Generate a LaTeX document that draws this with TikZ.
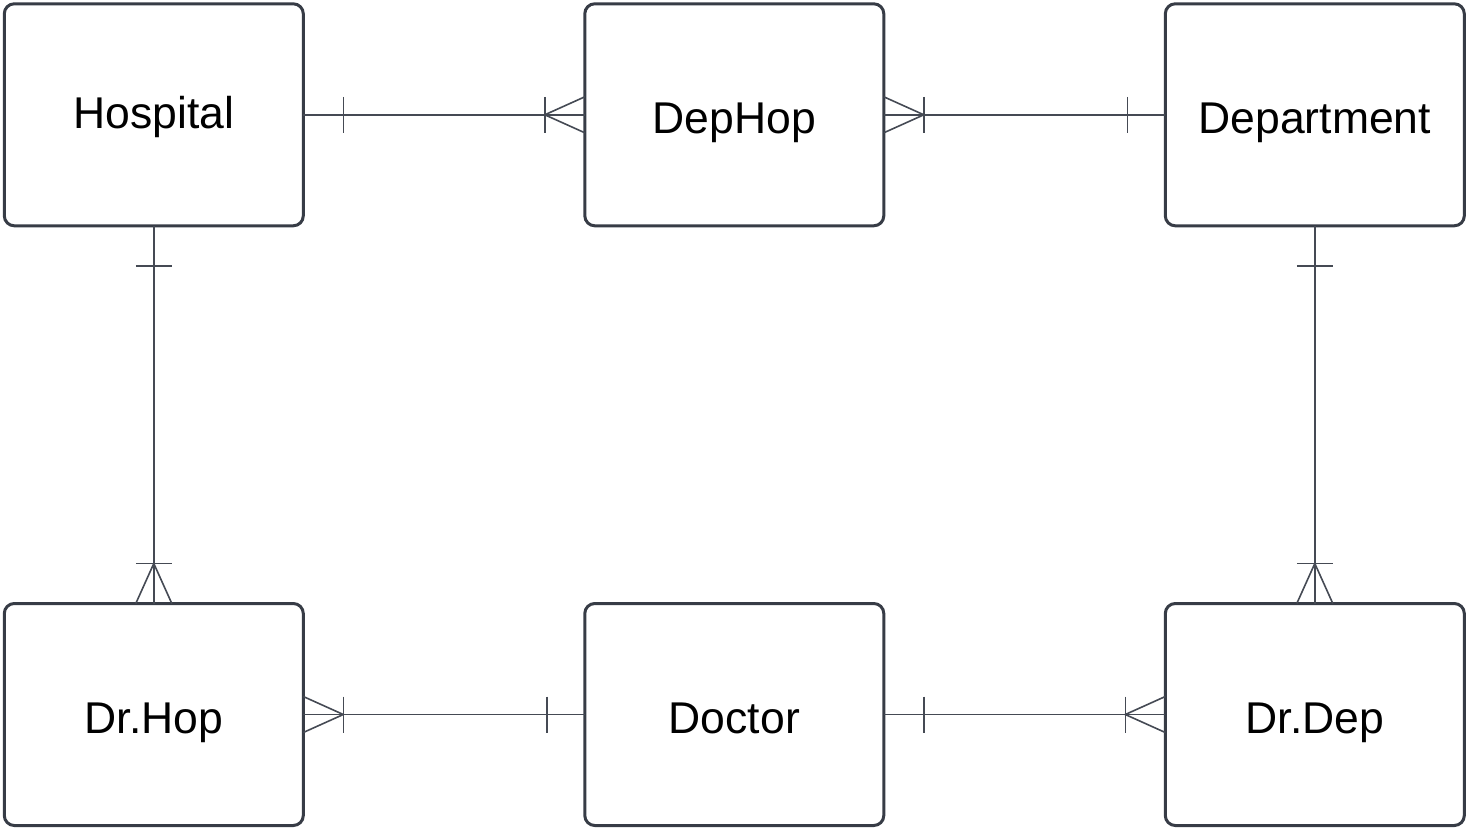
\documentclass[tikz,border=0pt]{standalone}
\usepackage{fontspec}
\setmainfont{Liberation Sans}
\usetikzlibrary{positioning,calc}
\definecolor{boxgray}{HTML}{373C46}
\definecolor{linkgray}{HTML}{454A54}
\begin{document}
\begin{tikzpicture}[x=1pt,y=-1pt,
  entity/.style={draw=boxgray,line width=3pt,rounded corners=10pt,outer sep=0pt,inner sep=0pt,
    minimum width=299pt,minimum height=222pt,text=black,text height=37pt,text depth=0pt,
    font=\fontsize{44.5}{50}\selectfont},
  link/.style={draw=linkgray,line width=1.6pt}]
\useasboundingbox (0,0) rectangle (1466,829);
% entities
\node[entity,text height=27.4pt] (hosp) at (153.8,114.8) {Hospital};
\node[entity] (dephop) at (734.3,114.8) {DepHop};
\node[entity] (dept) at (1314.8,114.8) {Department};
\node[entity,text height=38pt] (drhop) at (153.8,714.5) {Dr.Hop};
\node[entity,text height=38pt] (doc) at (734.3,714.5) {Doctor};
\node[entity,text height=38pt] (drdep) at (1314.8,714.5) {Dr.Dep};
% relationship lines
\begin{scope}[link]
% Hospital - DepHop
\draw (hosp.east) -- (dephop.west);
\draw ($(hosp.east)+(40,-18)$) -- ($(hosp.east)+(40,18)$);
\draw ($(dephop.west)+(-40,-18)$) -- ($(dephop.west)+(-40,18)$);
\draw ($(dephop.west)+(0,-18)$) -- ($(dephop.west)+(-40,0)$) -- ($(dephop.west)+(0,18)$);
% DepHop - Department
\draw (dephop.east) -- (dept.west);
\draw ($(dept.west)+(-38,-18)$) -- ($(dept.west)+(-38,18)$);
\draw ($(dephop.east)+(40,-18)$) -- ($(dephop.east)+(40,18)$);
\draw ($(dephop.east)+(0,-18)$) -- ($(dephop.east)+(40,0)$) -- ($(dephop.east)+(0,18)$);
% Hospital - Dr.Hop
\draw (hosp.south) -- (drhop.north);
\draw ($(hosp.south)+(-18,40)$) -- ($(hosp.south)+(18,40)$);
\draw ($(drhop.north)+(-18,-40)$) -- ($(drhop.north)+(18,-40)$);
\draw ($(drhop.north)+(-18,0)$) -- ($(drhop.north)+(0,-40)$) -- ($(drhop.north)+(18,0)$);
% Department - Dr.Dep
\draw (dept.south) -- (drdep.north);
\draw ($(dept.south)+(-18,40)$) -- ($(dept.south)+(18,40)$);
\draw ($(drdep.north)+(-18,-40)$) -- ($(drdep.north)+(18,-40)$);
\draw ($(drdep.north)+(-18,0)$) -- ($(drdep.north)+(0,-40)$) -- ($(drdep.north)+(18,0)$);
% Dr.Hop - Doctor
\draw (drhop.east) -- (doc.west);
\draw ($(doc.west)+(-38,-18)$) -- ($(doc.west)+(-38,18)$);
\draw ($(drhop.east)+(40,-18)$) -- ($(drhop.east)+(40,18)$);
\draw ($(drhop.east)+(0,-18)$) -- ($(drhop.east)+(40,0)$) -- ($(drhop.east)+(0,18)$);
% Doctor - Dr.Dep
\draw (doc.east) -- (drdep.west);
\draw ($(doc.east)+(40,-18)$) -- ($(doc.east)+(40,18)$);
\draw ($(drdep.west)+(-40,-18)$) -- ($(drdep.west)+(-40,18)$);
\draw ($(drdep.west)+(0,-18)$) -- ($(drdep.west)+(-40,0)$) -- ($(drdep.west)+(0,18)$);
\end{scope}
\end{tikzpicture}
\end{document}
